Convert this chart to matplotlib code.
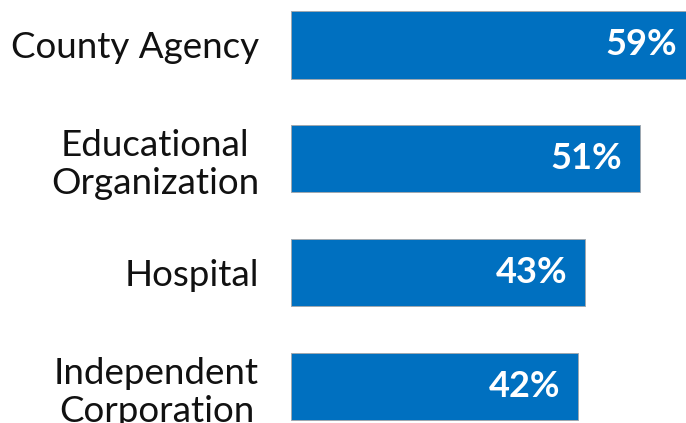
import matplotlib
matplotlib.use("Agg")
import matplotlib.pyplot as plt

# --- Data ---
categories = ["County Agency", "Educational\nOrganization", "Hospital", "Independent\nCorporation"]
values = [59, 51, 43, 42]
value_labels = ["59%", "51%", "43%", "42%"]

BAR_COLOR = "#0070C0"
DPI = 100

fig = plt.figure(figsize=(6.86, 4.23), dpi=DPI)
# axes starts where the bars start; the right edge runs to the figure edge
ax = fig.add_axes([291 / 686, 0, 395 / 686, 1])

y_pos = list(range(len(categories)))
ax.barh(y_pos, values, height=0.59, color=BAR_COLOR,
        edgecolor="#A0A8B0", linewidth=0.7)

ax.set_xlim(0, 57.8)
ax.set_ylim(3.32, -0.395)

ax.set_yticks(y_pos)
ax.set_yticklabels(categories, fontsize=26.5, family=["Lato", "DejaVu Sans"],
                   color="#111111", multialignment="center", linespacing=1.2)
ax.tick_params(axis="y", length=0, pad=23)
ax.set_xticks([])

for s in ax.spines.values():
    s.set_visible(False)

# value labels inside the bar ends
for y, v, lab in zip(y_pos, values, value_labels):
    ax.annotate(lab, xy=(v, y), xytext=(-12.5, 0), textcoords="offset points",
                ha="right", va="center", color="white", fontsize=26,
                fontweight="bold", family=["Lato", "DejaVu Sans"],
                annotation_clip=False)

fig.savefig("out.png", dpi=DPI)
